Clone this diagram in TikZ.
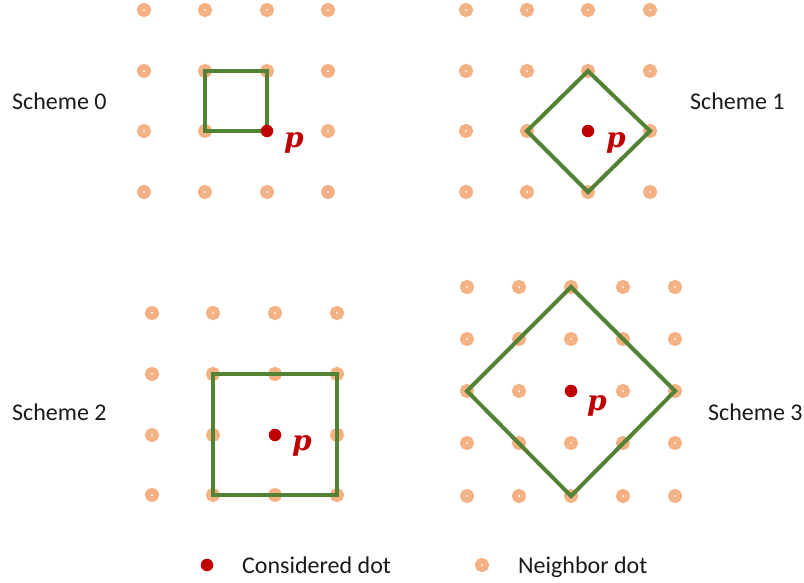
\documentclass[tikz,border=0pt]{standalone}
\usepackage{fontspec}
\setmainfont{Carlito}
\newfontfamily\pfont{DejaVu Serif}
\definecolor{nbcol}{HTML}{F4B183}
\definecolor{redcol}{HTML}{C00000}
\definecolor{greencol}{HTML}{548235}
\definecolor{textcol}{HTML}{1A1A1A}
\tikzset{
  nbr/.style={circle, draw=nbcol, line width=5.8pt, fill=white, inner sep=0pt, minimum size=8.2pt},
  cdot/.style={circle, fill=redcol, inner sep=0pt, minimum size=12.5pt},
  shape line/.style={draw=greencol, line width=4pt, line join=miter},
  plabel/.style={text=redcol, inner sep=0pt, anchor=base west, font=\pfont\bfseries\itshape\fontsize{28}{28}\selectfont},
  schemetext/.style={text=textcol, inner sep=0pt, anchor=base west, font=\fontsize{24}{28}\selectfont},
}
\begin{document}
\begin{tikzpicture}[x=1pt, y=-1pt]
\useasboundingbox (0,0) rectangle (804,583);
% Scheme 0 grid
\foreach \x [count=\i] in {144,205,267,328}
  \foreach \y [count=\j] in {10,71,131,192}
    {\ifnum\i=3 \ifnum\j=3 \else \node[nbr] (a-\i-\j) at (\x,\y) {};\fi \else \node[nbr] (a-\i-\j) at (\x,\y) {};\fi}
% Scheme 1 grid
\foreach \x [count=\i] in {466,527,588,650}
  \foreach \y [count=\j] in {10,71,131,192}
    {\ifnum\i=3 \ifnum\j=3 \else \node[nbr] (b-\i-\j) at (\x,\y) {};\fi \else \node[nbr] (b-\i-\j) at (\x,\y) {};\fi}
% Scheme 2 grid
\foreach \x [count=\i] in {152,213,275,337}
  \foreach \y [count=\j] in {313,374,435,495}
    {\ifnum\i=3 \ifnum\j=3 \else \node[nbr] (c-\i-\j) at (\x,\y) {};\fi \else \node[nbr] (c-\i-\j) at (\x,\y) {};\fi}
% Scheme 3 grid
\foreach \x [count=\i] in {467,519,571,623,675}
  \foreach \y [count=\j] in {287,339,391,443,496}
    {\ifnum\i=3 \ifnum\j=3 \else \node[nbr] (d-\i-\j) at (\x,\y) {};\fi \else \node[nbr] (d-\i-\j) at (\x,\y) {};\fi}
% considered dots (coordinates)
\coordinate (pa) at (267,131);
\coordinate (pb) at (588,131);
\coordinate (pc) at (275,435);
\coordinate (pd) at (571,391);
% shapes
\draw[shape line] (a-2-2.center) -- (a-3-2.center) -- (pa) -- (a-2-3.center) -- cycle;
\draw[shape line] (b-3-2.center) -- (b-4-3.center) -- (b-3-4.center) -- (b-2-3.center) -- cycle;
\draw[shape line] (c-2-2.center) -- (c-4-2.center) -- (c-4-4.center) -- (c-2-4.center) -- cycle;
\draw[shape line] (d-3-1.center) -- (d-5-3.center) -- (d-3-5.center) -- (d-1-3.center) -- cycle;
% red dots
\node[cdot] (ca) at (pa) {};
\node[cdot] (cb) at (pb) {};
\node[cdot] (cc) at (pc) {};
\node[cdot] (cd) at (pd) {};
% p labels
\node[plabel] (la) at ([shift={(17,17)}]ca.center) {p};
\node[plabel] (lb) at ([shift={(18,17)}]cb.center) {p};
\node[plabel] (lc) at ([shift={(17,15)}]cc.center) {p};
\node[plabel] (ld) at ([shift={(16,19)}]cd.center) {p};
% scheme names
\node[schemetext] (t0) at (12,110) {Scheme 0};
\node[schemetext] (t1) at (690,110) {Scheme 1};
\node[schemetext] (t2) at (12,420) {Scheme 2};
\node[schemetext] (t3) at (708,420) {Scheme 3};
% legend
\node[cdot] (lg1) at (207,565) {};
\node[schemetext] (lt1) at (242,573) {Considered dot};
\node[nbr] (lg2) at (482,565) {};
\node[schemetext] (lt2) at (518,573) {Neighbor dot};
\end{tikzpicture}
\end{document}
